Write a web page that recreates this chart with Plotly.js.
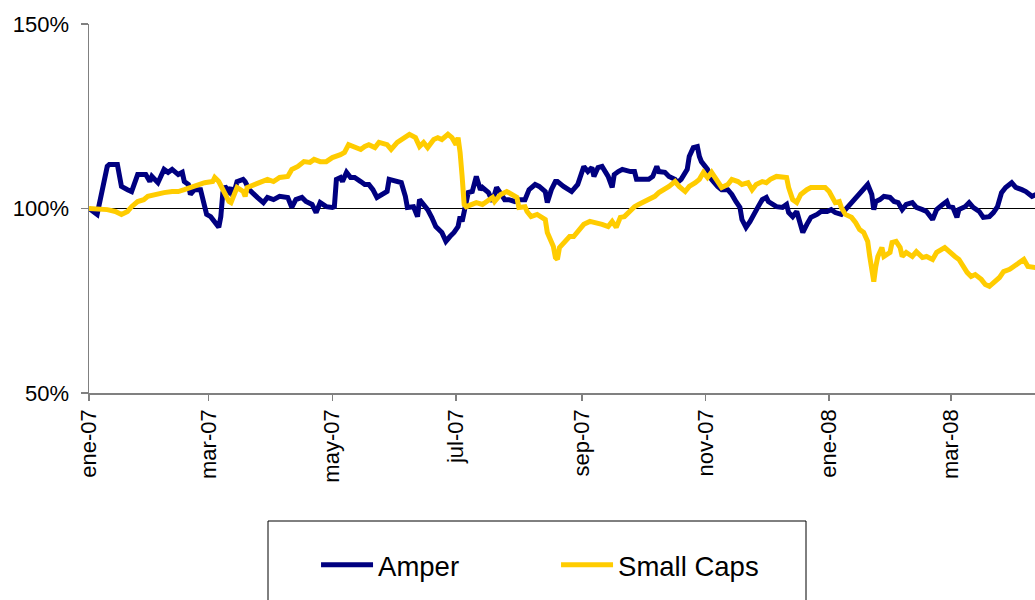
<!DOCTYPE html>
<html>
<head>
<meta charset="utf-8">
<script src="https://cdn.plot.ly/plotly-3.0.1.min.js"></script>
<style>
  html, body { margin: 0; padding: 0; background: #ffffff; }
  #chart { width: 1035px; height: 600px; }
</style>
</head>
<body>
<div id="chart"></div>
<script>
// ---- Data ----
var seriesNames = ["Amper", "Small Caps"];

var amperDates = [
"2007-01-01","2007-01-05","2007-01-10","2007-01-11","2007-01-15","2007-01-17","2007-01-20","2007-01-22","2007-01-25","2007-01-29",
"2007-01-31","2007-02-01","2007-02-04","2007-02-05","2007-02-07","2007-02-09","2007-02-11","2007-02-14","2007-02-16","2007-02-17",
"2007-02-19","2007-02-20","2007-02-22","2007-02-25","2007-02-26","2007-02-28","2007-03-02","2007-03-04","2007-03-06","2007-03-07",
"2007-03-08","2007-03-09","2007-03-11","2007-03-12","2007-03-13","2007-03-15","2007-03-18","2007-03-19","2007-03-21","2007-03-25",
"2007-03-28","2007-03-30","2007-04-02","2007-04-05","2007-04-09","2007-04-11","2007-04-13","2007-04-16","2007-04-18","2007-04-21",
"2007-04-23","2007-04-25","2007-04-28","2007-05-01","2007-05-02","2007-05-03","2007-05-05","2007-05-06","2007-05-08","2007-05-10",
"2007-05-12","2007-05-15","2007-05-17","2007-05-19","2007-05-21","2007-05-23","2007-05-26","2007-05-28","2007-05-29","2007-06-01",
"2007-06-04","2007-06-06","2007-06-07","2007-06-10","2007-06-12","2007-06-13","2007-06-15","2007-06-17","2007-06-19","2007-06-21",
"2007-06-24","2007-06-26","2007-06-28","2007-06-30","2007-07-02","2007-07-03","2007-07-04","2007-07-05","2007-07-07","2007-07-09",
"2007-07-11","2007-07-13","2007-07-14","2007-07-17","2007-07-19","2007-07-21","2007-07-23","2007-07-25","2007-07-27","2007-07-30",
"2007-08-01","2007-08-04","2007-08-06","2007-08-09","2007-08-11","2007-08-14","2007-08-15","2007-08-17","2007-08-19","2007-08-20",
"2007-08-23","2007-08-25","2007-08-27","2007-08-30","2007-09-01","2007-09-02","2007-09-04","2007-09-06","2007-09-07","2007-09-09",
"2007-09-11","2007-09-14","2007-09-16","2007-09-17","2007-09-19","2007-09-21","2007-09-25","2007-09-27","2007-09-28","2007-10-01",
"2007-10-04","2007-10-06","2007-10-08","2007-10-09","2007-10-12","2007-10-14","2007-10-17","2007-10-18","2007-10-20","2007-10-23",
"2007-10-24","2007-10-26","2007-10-28","2007-10-29","2007-10-30","2007-11-02","2007-11-04","2007-11-07","2007-11-09","2007-11-12",
"2007-11-14","2007-11-16","2007-11-18","2007-11-19","2007-11-21","2007-11-23","2007-11-25","2007-11-27","2007-11-29","2007-12-01",
"2007-12-02","2007-12-04","2007-12-06","2007-12-09","2007-12-11","2007-12-12","2007-12-14","2007-12-16","2007-12-17","2007-12-19",
"2007-12-21","2007-12-23","2007-12-26","2007-12-28","2007-12-31","2008-01-02","2008-01-04","2008-01-07","2008-01-09","2008-01-12",
"2008-01-14","2008-01-16","2008-01-18","2008-01-20","2008-01-22","2008-01-23","2008-01-24","2008-01-26","2008-01-28","2008-01-31",
"2008-02-02","2008-02-04","2008-02-06","2008-02-08","2008-02-11","2008-02-13","2008-02-16","2008-02-18","2008-02-21","2008-02-23",
"2008-02-26","2008-02-28","2008-02-29","2008-03-02","2008-03-04","2008-03-05","2008-03-08","2008-03-10","2008-03-12","2008-03-15",
"2008-03-17","2008-03-20","2008-03-22","2008-03-24","2008-03-26","2008-03-28","2008-03-31","2008-04-02","2008-04-05","2008-04-07",
"2008-04-10","2008-04-12"
];
var amperValues = [
100.0,98.4,111.4,111.9,111.9,106.0,105.1,104.6,109.2,109.2,
107.3,108.7,107.0,108.4,110.6,109.8,110.6,109.2,109.8,107.3,
106.5,103.8,105.1,105.1,102.4,98.4,97.8,96.2,94.9,97.8,
104.3,106.0,104.6,105.7,103.3,107.3,107.9,107.3,105.1,103.0,
101.6,103.0,102.4,103.3,103.0,100.3,102.4,103.0,101.9,101.1,
98.9,101.6,100.5,100.3,100.5,107.9,108.4,107.3,109.8,108.4,
108.4,107.3,106.5,106.5,105.1,103.0,103.8,104.6,107.9,107.3,
107.0,103.3,100.3,100.5,97.8,102.4,101.1,99.7,97.6,95.1,
93.5,91.1,92.4,93.5,95.1,97.8,96.5,99.7,104.3,104.6,
108.7,105.1,105.7,104.3,101.9,105.7,104.3,102.4,102.4,101.9,
102.4,102.4,105.1,106.5,106.0,104.6,101.6,105.1,107.3,107.3,
106.0,105.1,104.6,106.5,109.8,111.4,110.0,111.1,108.7,111.1,
111.4,108.7,105.7,109.2,110.0,110.6,110.0,110.0,107.9,107.9,
107.9,108.7,111.4,110.0,109.8,108.7,107.9,107.0,107.9,110.6,
114.1,116.5,116.8,114.1,112.7,110.6,107.9,106.0,105.1,105.1,
103.8,101.9,100.3,97.0,94.9,96.5,98.9,100.5,102.4,103.0,
101.9,101.1,100.5,100.3,101.1,98.9,97.8,99.2,97.0,93.5,
95.7,97.6,98.4,99.2,99.2,99.7,98.9,98.4,99.7,101.6,
102.4,103.8,105.4,106.5,103.8,99.7,101.9,102.4,103.3,103.0,
101.9,101.6,99.7,101.1,101.6,100.3,99.7,99.2,97.0,99.7,
101.1,101.9,100.5,100.3,97.6,99.7,100.5,101.6,100.3,99.2,
97.6,97.8,98.9,100.5,104.3,105.7,107.0,105.7,105.1,104.6,
103.3,103.8
];

var smallCapsDates = [
"2007-01-01","2007-01-05","2007-01-10","2007-01-14","2007-01-17","2007-01-20","2007-01-22","2007-01-25","2007-01-28","2007-01-30",
"2007-02-02","2007-02-05","2007-02-07","2007-02-11","2007-02-14","2007-02-17","2007-02-21","2007-02-24","2007-02-27","2007-03-03",
"2007-03-04","2007-03-06","2007-03-08","2007-03-09","2007-03-11","2007-03-12","2007-03-14","2007-03-15","2007-03-18","2007-03-19",
"2007-03-20","2007-03-23","2007-03-26","2007-03-30","2007-04-02","2007-04-05","2007-04-09","2007-04-11","2007-04-14","2007-04-17",
"2007-04-20","2007-04-22","2007-04-25","2007-04-28","2007-05-01","2007-05-05","2007-05-07","2007-05-09","2007-05-12","2007-05-15",
"2007-05-17","2007-05-19","2007-05-22","2007-05-24","2007-05-28","2007-05-30","2007-06-02","2007-06-06","2007-06-08","2007-06-11",
"2007-06-13","2007-06-15","2007-06-17","2007-06-20","2007-06-22","2007-06-24","2007-06-27","2007-06-29","2007-07-01","2007-07-02",
"2007-07-03","2007-07-04","2007-07-05","2007-07-06","2007-07-09","2007-07-11","2007-07-14","2007-07-16","2007-07-19","2007-07-20",
"2007-07-22","2007-07-23","2007-07-26","2007-07-28","2007-07-31","2007-08-01","2007-08-04","2007-08-05","2007-08-07","2007-08-10",
"2007-08-12","2007-08-14","2007-08-15","2007-08-17","2007-08-18","2007-08-19","2007-08-20","2007-08-21","2007-08-23","2007-08-26",
"2007-08-28","2007-08-31","2007-09-02","2007-09-05","2007-09-08","2007-09-11","2007-09-14","2007-09-16","2007-09-18","2007-09-20",
"2007-09-22","2007-09-25","2007-09-27","2007-09-29","2007-10-02","2007-10-04","2007-10-07","2007-10-09","2007-10-12","2007-10-14",
"2007-10-17","2007-10-19","2007-10-22","2007-10-24","2007-10-27","2007-10-29","2007-10-31","2007-11-02","2007-11-04","2007-11-07",
"2007-11-09","2007-11-12","2007-11-14","2007-11-17","2007-11-19","2007-11-22","2007-11-24","2007-11-26","2007-11-29","2007-12-01",
"2007-12-03","2007-12-06","2007-12-08","2007-12-11","2007-12-12","2007-12-14","2007-12-16","2007-12-18","2007-12-21","2007-12-23",
"2007-12-26","2007-12-30","2008-01-01","2008-01-03","2008-01-04","2008-01-06","2008-01-07","2008-01-09","2008-01-12","2008-01-14",
"2008-01-16","2008-01-18","2008-01-20","2008-01-21","2008-01-22","2008-01-23","2008-01-24","2008-01-25","2008-01-27","2008-01-28",
"2008-01-31","2008-02-01","2008-02-03","2008-02-05","2008-02-06","2008-02-08","2008-02-11","2008-02-13","2008-02-16","2008-02-18",
"2008-02-21","2008-02-23","2008-02-27","2008-02-29","2008-03-03","2008-03-05","2008-03-07","2008-03-09","2008-03-11","2008-03-13",
"2008-03-16","2008-03-18","2008-03-20","2008-03-22","2008-03-25","2008-03-27","2008-03-30","2008-04-01","2008-04-04","2008-04-06",
"2008-04-08","2008-04-10","2008-04-12"
];
var smallCapsValues = [
100.0,100.0,99.7,99.2,98.4,99.2,100.5,101.9,102.4,103.3,
103.8,104.1,104.3,104.6,104.6,105.1,106.0,106.5,107.0,107.3,
108.4,107.3,105.1,103.8,101.9,101.6,104.3,105.7,104.6,103.3,
105.7,106.5,107.0,107.9,107.3,108.4,108.7,110.6,111.4,112.7,
112.5,113.3,112.7,112.7,113.8,114.6,115.2,117.3,116.8,116.0,
116.8,117.3,116.5,117.9,117.3,116.0,117.9,119.5,120.1,119.2,
116.8,117.9,116.5,118.7,119.2,118.7,120.1,119.2,117.3,119.2,
115.2,108.7,101.1,100.5,101.1,101.6,101.1,101.9,103.0,101.9,
103.3,103.8,104.6,103.8,103.0,100.3,100.5,99.2,97.8,98.4,
97.8,97.0,93.5,90.8,89.7,86.7,86.2,89.4,90.8,92.4,
92.4,94.3,95.7,96.5,96.2,95.7,95.1,96.5,94.9,97.6,
97.8,99.7,100.5,101.1,101.9,102.4,103.3,104.3,105.1,106.0,
107.3,106.0,104.6,106.0,107.0,107.9,109.8,108.4,109.8,107.0,
105.7,106.5,107.9,107.3,106.5,107.0,105.1,106.5,107.3,107.0,
107.9,108.7,108.7,108.4,105.7,102.4,101.6,103.8,105.1,105.7,
105.7,105.7,104.6,102.4,101.6,101.9,100.3,98.4,97.6,96.2,
94.3,93.5,91.1,87.0,83.5,80.2,84.3,87.0,89.4,87.0,
88.1,90.8,91.1,89.4,87.0,88.1,87.0,88.3,86.7,87.0,
86.2,88.1,89.4,88.3,87.0,86.2,84.3,82.7,81.6,82.1,
80.8,79.4,78.9,79.9,81.3,82.9,83.5,84.3,85.6,86.2,
84.3,84.0,84.0
];

var xTickDates = ["2007-01-01","2007-03-01","2007-05-01","2007-07-01","2007-09-01","2007-11-01","2008-01-01","2008-03-01"];
var xTickLabels = ["ene-07","mar-07","may-07","jul-07","sep-07","nov-07","ene-08","mar-08"];
var yTickValues = [50, 100, 150];
var yTickLabels = ["50%", "100%", "150%"];

var colors = ["#000080", "#FFCC00"];

var FONT = "Arial, 'Liberation Sans', sans-serif";

var traces = [
  {
    type: "scatter", mode: "lines", name: seriesNames[0],
    x: amperDates, y: amperValues,
    line: { color: colors[0], width: 5 }
  },
  {
    type: "scatter", mode: "lines", name: seriesNames[1],
    x: smallCapsDates, y: smallCapsValues,
    line: { color: colors[1], width: 5 }
  }
];

var layout = {
  width: 1035, height: 600,
  margin: { l: 89, r: 0, t: 24, b: 207, pad: 0 },
  paper_bgcolor: "#ffffff", plot_bgcolor: "#ffffff",
  font: { family: FONT, color: "#000000", size: 22 },
  showlegend: true,
  legend: {
    orientation: "h",
    x: 0.240, xanchor: "left",
    y: -0.466, yanchor: "middle",
    bgcolor: "rgba(0,0,0,0)",
    borderwidth: 0,
    font: { family: FONT, size: 27.5, color: "#000000" },
    itemwidth: 52,
    entrywidth: 173, entrywidthmode: "pixels",
    traceorder: "normal"
  },
  xaxis: {
    type: "date",
    range: ["2007-01-01", "2008-04-11 12:00"],
    tickmode: "array", tickvals: xTickDates, ticktext: xTickLabels,
    tickangle: -90,
    tickfont: { family: FONT, size: 22, color: "#000000" },
    ticks: "outside", ticklen: 6, tickcolor: "#808080", tickwidth: 1.5,
    showline: true, linecolor: "#808080", linewidth: 1.5,
    showgrid: false, zeroline: false, automargin: false,
    fixedrange: true
  },
  yaxis: {
    range: [50, 150],
    tickmode: "array", tickvals: yTickValues, ticktext: yTickLabels,
    tickfont: { family: FONT, size: 22, color: "#000000" },
    ticks: "outside", ticklen: 7, tickcolor: "#808080", tickwidth: 1.5,
    ticklabelstandoff: 7,
    showline: true, linecolor: "#808080", linewidth: 1.5,
    showgrid: true, gridcolor: "#000000", gridwidth: 1,
    zeroline: false, automargin: false,
    fixedrange: true
  },
  shapes: [
    {
      type: "rect", xref: "paper", yref: "paper",
      x0: (268 - 89) / 946, x1: (806 - 89) / 946,
      y0: (393 - 521) / 369, y1: (393 - 640) / 369,
      line: { color: "#000000", width: 1 },
      fillcolor: "#ffffff", layer: "below"
    }
  ]
};

Plotly.newPlot("chart", traces, layout, { displayModeBar: false, staticPlot: true });
</script>
</body>
</html>
